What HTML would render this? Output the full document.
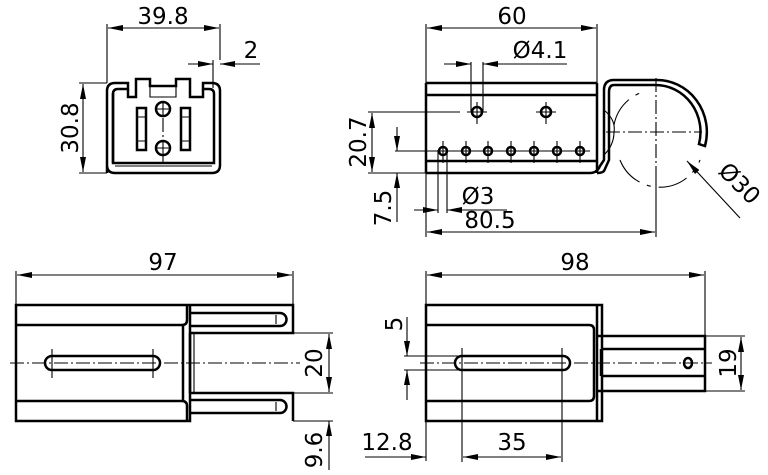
<!DOCTYPE html>
<html><head><meta charset="utf-8"><style>
html,body{margin:0;padding:0;background:#fff}
svg{display:block}
text{font-family:"DejaVu Sans","Liberation Sans",sans-serif;font-size:23px;fill:#000}
.t{stroke:#000;stroke-width:2.5;fill:none}
.n{stroke:#000;stroke-width:1.1;fill:none}
.c{stroke:#000;stroke-width:1.1;fill:none;stroke-dasharray:14 3 2 3}
</style></head><body>
<svg width="768" height="475" viewBox="0 0 768 475">
<defs>
<marker id="a" markerUnits="userSpaceOnUse" markerWidth="16" markerHeight="8" refX="15" refY="4" orient="auto-start-reverse"><path d="M0,1 L15,4 L0,7 Z" fill="#000"/></marker>
</defs>

<!-- ===== Top-left view ===== -->
<path class="t" d="M107,173 V91 Q107,83 115,83 H128 V89 H118 Q113,89 113,94 V163 H214 V94 Q214,89 209,89 H203 V83 H212 Q220,83 220,91 V165 Q220,173 212,173 H115 Q107,173 107,165 Z"/>
<path class="t" d="M113,93 V163 M128,89 V97 H136 V79 H150 V86 H176 V79 H190 V97 H203 V89"/>
<path class="n" d="M150,86 V97 H176 V86 M115,166 H212"/>
<rect class="t" x="137" y="108" width="9" height="42"/>
<rect class="t" x="181" y="108" width="9" height="42"/>
<path class="n" d="M137,117 H146 M137,141 H146 M181,117 H190 M181,141 H190"/>
<circle class="t" cx="163" cy="109" r="7"/>
<circle class="t" cx="163" cy="148" r="7"/>
<path class="n" d="M156,109 H170 M163,102 V116 M156,148 H170 M163,141 V163" />
<path class="c" d="M163,118 V139"/>
<path class="n" d="M107,83 V24 M220,60 V24"/>
<line class="n" x1="108" y1="28" x2="219" y2="28" marker-start="url(#a)" marker-end="url(#a)"/>
<text x="163" y="24" text-anchor="middle">39.8</text>
<path class="n" d="M213,60 V88"/>
<line class="n" x1="188" y1="64" x2="213" y2="64" marker-end="url(#a)"/>
<line class="n" x1="260" y1="64" x2="220" y2="64" marker-end="url(#a)"/>
<text x="251" y="58" text-anchor="middle">2</text>
<path class="n" d="M79,83 H107 M79,173 H107"/>
<line class="n" x1="83" y1="84" x2="83" y2="172" marker-start="url(#a)" marker-end="url(#a)"/>
<text transform="translate(78,128) rotate(-90)" text-anchor="middle">30.8</text>

<!-- ===== Top-right view ===== -->
<path class="t" d="M426,83 H597 M426,95 H597 M426,161 H597 M426,173 H590 Q597,173 600,166 L604,160 V90 Q604,80 614,80 H656 A50,52 0 0 1 705,146 L699,144 A45,47 0 0 0 656,85 H614 Q609,85 609,92 V160 L604,171 Q602,173 597,173 M426,83 V173 M597,83 V173"/>
<path class="n" d="M604,110 Q616,120 614,132 Q614,145 604,155"/>
<path class="n" d="M614,125 A43,43 0 0,1 640,93 M620,160 A43,43 0 0,0 700,160" stroke-dasharray="30 8 4 8"/>
<path class="c" d="M606,132 H702 M656,78 V176"/>
<circle class="t" cx="477" cy="112" r="5"/>
<circle class="t" cx="546" cy="112" r="5"/>
<path class="n" d="M467,112 H487 M477,102 V124 M536,112 H556 M546,102 V124"/>
<g class="t">
<circle cx="443" cy="151" r="4"/><circle cx="466" cy="151" r="4"/><circle cx="488" cy="151" r="4"/><circle cx="511" cy="151" r="4"/><circle cx="534" cy="151" r="4"/><circle cx="557" cy="151" r="4"/><circle cx="580" cy="151" r="4"/>
</g>
<path class="n" d="M395,151 H590 M443,141 V163 M466,141 V163 M488,141 V163 M511,141 V163 M534,141 V163 M557,141 V163 M580,141 V163"/>
<path class="n" d="M426,83 V24 M597,83 V24"/>
<line class="n" x1="427" y1="28" x2="596" y2="28" marker-start="url(#a)" marker-end="url(#a)"/>
<text x="512" y="24" text-anchor="middle">60</text>
<path class="n" d="M471,62 V112 M483,62 V112"/>
<line class="n" x1="444" y1="64" x2="471" y2="64" marker-end="url(#a)"/>
<line class="n" x1="567" y1="64" x2="483" y2="64" marker-end="url(#a)"/>
<text x="540" y="58" text-anchor="middle">Ø4.1</text>
<path class="n" d="M368,112 H460 M368,173 H426"/>
<line class="n" x1="372" y1="113" x2="372" y2="172" marker-start="url(#a)" marker-end="url(#a)"/>
<text transform="translate(366,142) rotate(-90)" text-anchor="middle">20.7</text>
<line class="n" x1="397" y1="127" x2="397" y2="151" marker-end="url(#a)"/>
<line class="n" x1="397" y1="222" x2="397" y2="173" marker-end="url(#a)"/>
<text transform="translate(391,208) rotate(-90)" text-anchor="middle">7.5</text>
<path class="n" d="M438,150 V213 M447,150 V213"/>
<line class="n" x1="414" y1="210" x2="438" y2="210" marker-end="url(#a)"/>
<line class="n" x1="507" y1="210" x2="447" y2="210" marker-end="url(#a)"/>
<text x="478" y="204" text-anchor="middle">Ø3</text>
<path class="n" d="M426,173 V237 M656,176 V237"/>
<line class="n" x1="427" y1="232" x2="655" y2="232" marker-start="url(#a)" marker-end="url(#a)"/>
<text x="490" y="228" text-anchor="middle">80.5</text>
<line class="n" x1="740" y1="218" x2="687" y2="161" marker-end="url(#a)"/>
<text transform="translate(734,189) rotate(45)" text-anchor="middle">Ø30</text>

<!-- ===== Bottom-left view ===== -->
<path class="t" d="M16,305 H190 V421 H16 Z M190,305 H293 V333 H190 M190,393 H293 V421"/>
<path class="t" d="M16,325 H182 Q187,325 187,320 V305 M16,401 H182 Q187,401 187,406 V421 M183,325 V401 M190,333 V393"/>
<path class="n" d="M194,333 V393"/>
<path class="t" d="M190,313 H280 A6.5,6.5 0 0 1 280,326 H190 M190,400 H280 A6.5,6.5 0 0 1 280,413 H190"/>
<path class="n" d="M276,315 V324 M276,402 V411"/>
<path class="t" d="M52,356 H153 A7,7 0 0 1 153,370 H52 A7,7 0 0 1 52,356 Z"/>
<path class="n" d="M52,349 V378 M153,349 V378"/>
<path class="c" d="M10,363 H300"/>
<path class="n" d="M16,305 V271 M293,305 V271"/>
<line class="n" x1="17" y1="275" x2="292" y2="275" marker-start="url(#a)" marker-end="url(#a)"/>
<text x="163" y="270" text-anchor="middle">97</text>
<path class="n" d="M293,333 H333 M293,393 H333 M293,421 H333"/>
<line class="n" x1="329" y1="334" x2="329" y2="392" marker-start="url(#a)" marker-end="url(#a)"/>
<text transform="translate(322,363) rotate(-90)" text-anchor="middle">20</text>
<line class="n" x1="329" y1="470" x2="329" y2="421" marker-end="url(#a)"/>
<text transform="translate(322,450) rotate(-90)" text-anchor="middle">9.6</text>

<!-- ===== Bottom-right view ===== -->
<path class="t" d="M426,305 H602 V421 H426 Z M597,305 V421 M597,336 H705 V391 H597"/>
<path class="t" d="M426,325 H589 Q594,325 594,330 V396 Q594,401 589,401 H426 M601,349 H705 M601,376 H705 M601,349 V376"/>
<path class="t" d="M462,356 H563 A7,7 0 0 1 563,370 H462 A7,7 0 0 1 462,356 Z"/>
<ellipse class="t" cx="688" cy="363" rx="4" ry="5"/>
<path class="c" d="M420,363 H712"/>
<path class="n" d="M462,348 V462 M562,348 V462 M404,356 H460 M404,370 H460"/>
<path class="n" d="M426,305 V271 M705,336 V271"/>
<line class="n" x1="427" y1="275" x2="704" y2="275" marker-start="url(#a)" marker-end="url(#a)"/>
<text x="575" y="270" text-anchor="middle">98</text>
<path class="n" d="M705,336 H745 M705,391 H745"/>
<line class="n" x1="741" y1="337" x2="741" y2="390" marker-start="url(#a)" marker-end="url(#a)"/>
<text transform="translate(736,363) rotate(-90)" text-anchor="middle">19</text>
<line class="n" x1="407" y1="317" x2="407" y2="356" marker-end="url(#a)"/>
<line class="n" x1="407" y1="400" x2="407" y2="370" marker-end="url(#a)"/>
<text transform="translate(402,324) rotate(-90)" text-anchor="middle">5</text>
<path class="n" d="M426,421 V461"/>
<line class="n" x1="365" y1="457" x2="426" y2="457" marker-end="url(#a)"/>
<text x="387" y="450" text-anchor="middle">12.8</text>
<line class="n" x1="463" y1="457" x2="561" y2="457" marker-start="url(#a)" marker-end="url(#a)"/>
<text x="512" y="450" text-anchor="middle">35</text>
</svg>
</body></html>
